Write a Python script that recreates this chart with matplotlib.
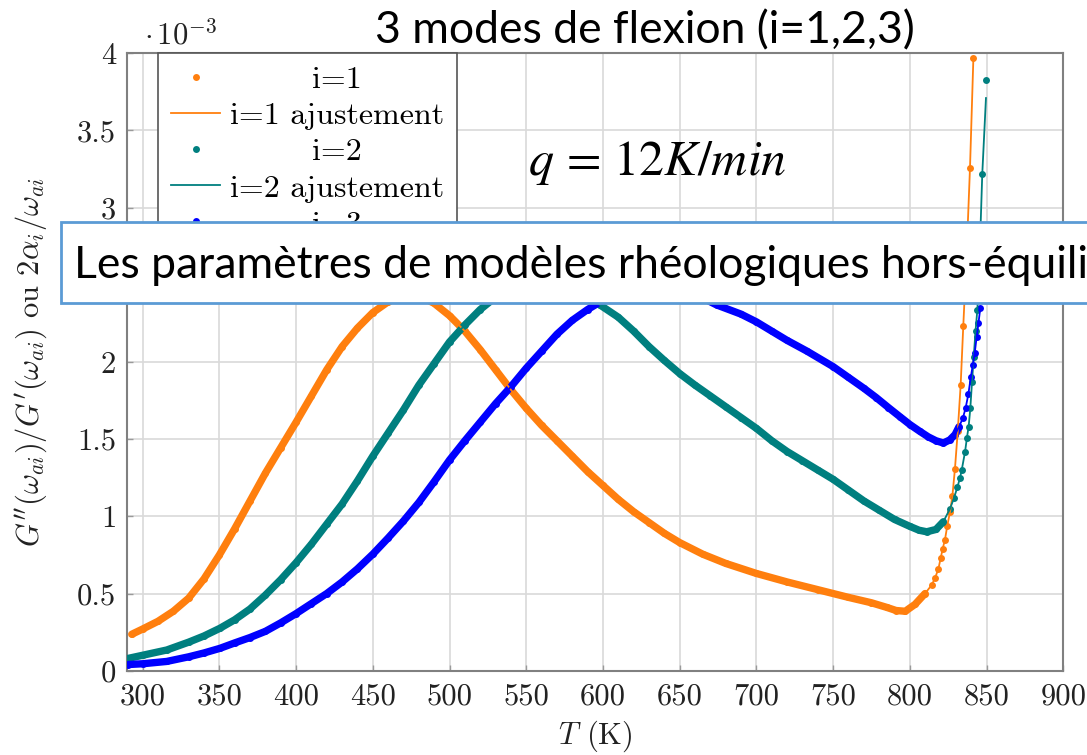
import matplotlib
matplotlib.use("Agg")
import matplotlib.pyplot as plt
from matplotlib.patches import Rectangle
from matplotlib.ticker import FuncFormatter, MultipleLocator

# ---------------- data (values in units of 1e-3) ----------------
T1 = [292.9, 300, 310, 320, 330, 340, 350, 360, 370, 380, 390, 400, 410, 420, 430,
      440, 450, 460, 470, 480, 490, 500, 510, 520, 530, 540, 550, 560, 570, 580,
      590, 600, 610, 620, 630, 640, 650, 665, 680, 700, 720, 740, 760, 775, 785,
      791, 797, 803.4, 809.9, 814.2, 816.4, 818.6, 820.1, 821.4, 822.9, 824.4,
      826.2, 827.7, 829.4, 831.2, 833.1, 834.8, 837.0, 839.2, 841.4]
V1 = [0.236, 0.27, 0.32, 0.385, 0.47, 0.595, 0.75, 0.92, 1.10, 1.28, 1.445, 1.61, 1.78, 1.95, 2.10,
      2.22, 2.32, 2.39, 2.43, 2.43, 2.38, 2.30, 2.20, 2.08, 1.95, 1.82, 1.70, 1.59, 1.49, 1.39,
      1.29, 1.20, 1.11, 1.03, 0.96, 0.89, 0.83, 0.755, 0.695, 0.63, 0.575, 0.525, 0.475, 0.44, 0.41,
      0.39, 0.385, 0.43, 0.50, 0.555, 0.60, 0.66, 0.73, 0.79, 0.85, 0.94,
      1.03, 1.13, 1.31, 1.55, 1.85, 2.23, 2.70, 3.26, 3.97]

T2 = [290.7, 300, 315.7, 330, 340, 350.4, 360, 370, 380, 390, 400, 410, 420, 430, 440,
      450, 460, 470, 480, 490, 500, 510, 520, 530, 540, 550, 560, 570, 580, 590,
      598, 610, 620, 630, 640, 650, 660, 670, 680, 690, 700, 710, 720, 730, 740,
      750, 760, 770, 780, 790, 800, 806, 811, 817, 821.8, 826.2, 828.8, 831.0,
      832.7, 833.8, 836.0, 837.2, 838.3, 839.4, 840.5, 841.6, 842.8, 844.0, 845.5,
      847.2, 849.6]
V2 = [0.08, 0.10, 0.134, 0.185, 0.225, 0.275, 0.33, 0.40, 0.49, 0.59, 0.70, 0.82, 0.95, 1.08, 1.23,
      1.39, 1.54, 1.69, 1.85, 1.99, 2.13, 2.24, 2.34, 2.42, 2.49, 2.53, 2.55, 2.54, 2.50, 2.44,
      2.37, 2.29, 2.20, 2.10, 2.01, 1.925, 1.85, 1.78, 1.71, 1.64, 1.57, 1.49, 1.42, 1.36, 1.30,
      1.24, 1.17, 1.10, 1.04, 0.98, 0.935, 0.91, 0.90, 0.915, 0.965, 1.05, 1.12, 1.19,
      1.25, 1.30, 1.42, 1.51, 1.58, 1.70, 1.87, 2.03, 2.20, 2.34, 2.70,
      3.22, 3.83]
V2_FIT_END = 3.71

T3 = [290.7, 300, 315.7, 330, 340, 350.4, 360, 370, 380, 390, 400, 410, 420, 430, 440,
      450, 460, 470, 480, 490, 500, 510, 520, 530, 540, 550, 560, 570, 580, 590,
      600, 610, 620, 630, 640, 650, 660, 674, 690, 700, 710, 720, 733, 750, 760,
      770, 778, 786, 793.6, 800, 806.6, 812, 817, 821.8, 826.0, 829.5, 832.0,
      834.5, 836.3, 838.1, 839.7, 841.0, 842.3, 843.5, 844.7, 845.9]
V3 = [0.04, 0.045, 0.06, 0.09, 0.115, 0.145, 0.18, 0.215, 0.255, 0.31, 0.37, 0.435, 0.50, 0.575, 0.66,
      0.755, 0.86, 0.97, 1.09, 1.225, 1.365, 1.49, 1.61, 1.73, 1.84, 1.96, 2.07, 2.18, 2.27, 2.34,
      2.40, 2.45, 2.48, 2.50, 2.50, 2.48, 2.44, 2.37, 2.31, 2.26, 2.20, 2.14, 2.07, 1.97, 1.90,
      1.83, 1.77, 1.705, 1.645, 1.595, 1.55, 1.515, 1.49, 1.475, 1.495, 1.53, 1.58,
      1.635, 1.70, 1.79, 1.90, 1.98, 2.06, 2.16, 2.25, 2.35]

LABELS = ["i=1", "i=1 ajustement", "i=2", "i=2 ajustement", "i=3", "i=3 ajustement"]
XTICKS = [300, 350, 400, 450, 500, 550, 600, 650, 700, 750, 800, 850, 900]
TITLE = "3 modes de flexion (i=1,2,3)"
RATE = r"$q\, =\, 12K/min$"
BANNER = "Les paramètres de modèles rhéologiques hors-équilibre"

# ---------------- style ----------------
plt.rcParams["font.family"] = ["cmr10", "DejaVu Serif"]
plt.rcParams["mathtext.fontset"] = "cm"
plt.rcParams["axes.formatter.use_mathtext"] = True

C1, C2, C3 = "#ff7f0e", "#007f7f", "#0000ff"
SCALE = 1e-3
FW, FH = 1087, 755

fig = plt.figure(figsize=(10.87, 7.55), dpi=100)
ax = fig.add_axes([127.3 / FW, 1 - 670.7 / FH, (1063.3 - 127.3) / FW, (670.7 - 53.3) / FH])

def series(T, V, color, dense_max, label, fitV=None):
    y = [v * SCALE for v in V]
    Td = [t for t in T if t <= dense_max]
    yd = y[:len(Td)]
    ax.plot(Td, yd, color=color, lw=5.3, solid_capstyle="round",
            solid_joinstyle="round", label="_nolegend_", zorder=3)
    ax.plot(T, y, ls="none", marker="o", ms=5.0, color=color, mec="none",
            label=label, zorder=3)
    yf = y if fitV is None else [v * SCALE for v in fitV]
    ax.plot(T, yf, color=color, lw=1.3, label=label + " ajustement", zorder=4)

series(T1, V1, C1, 812, LABELS[0])
series(T2, V2, C2, 824, LABELS[2], fitV=V2[:-1] + [V2_FIT_END])
series(T3, V3, C3, 832, LABELS[4])

ax.set_xlim(290, 900)
ax.set_ylim(0, 4 * SCALE)
ax.set_xticks(XTICKS)
ax.yaxis.set_major_locator(MultipleLocator(0.5 * SCALE))
ax.yaxis.set_major_formatter(FuncFormatter(lambda y, _: f"{y / SCALE:g}"))
ax.xaxis.set_major_formatter(FuncFormatter(lambda x, _: f"{x:g}"))
ax.grid(True, color="#d9d9d9", lw=1.2, zorder=0)
ax.set_axisbelow(True)
for s in ax.spines.values():
    s.set_color("#808080")
    s.set_linewidth(1.5)
ax.tick_params(axis="both", which="both", direction="in", length=4, width=1,
               color="#9a9a9a", labelsize=22, labelcolor="#222222")
ax.tick_params(axis="x", pad=9)
ax.tick_params(axis="y", pad=8)

ax.set_xlabel(r"$T$ (K)", fontsize=22, color="#222222", labelpad=6)
ax.set_ylabel(r"$G''(\omega_{ai})/G'(\omega_{ai})$ ou $2\alpha_i/\omega_{ai}$",
              fontsize=22, color="#222222", labelpad=20)

fig.text(144 / FW, 1 - 44 / FH, r"$\cdot\,10^{-3}$", fontsize=22,
         color="#222222", ha="left", va="baseline")

leg = ax.legend(loc="upper left", bbox_to_anchor=((158 - 127.3) / 936, 1.0),
                borderaxespad=0, fontsize=23, frameon=True, fancybox=False,
                framealpha=1, edgecolor="#555555", handlelength=1.55,
                handletextpad=0.3, labelspacing=0.24, borderpad=0.4)
leg.get_frame().set_linewidth(1.2)
leg.set_zorder(6)
fig.canvas.draw()
texts = leg.get_texts()
widths = [t.get_window_extent().width for t in texts]
W = max(widths)
for t, w in zip(texts, widths):
    t.set_x((W - w) / 2)

# overlay titles / annotation (figure pixel positions)
fig.text(645 / FW, 1 - 43 / FH, TITLE, fontsize=32, family="Lato",
         ha="center", va="baseline", color="black")
fig.text(528 / FW, 1 - 175 / FH, RATE, fontsize=36, math_fontfamily="stix",
         ha="left", va="baseline", color="black", zorder=7)

fig.add_artist(Rectangle((61 / FW, 1 - 303 / FH), 1.2, 81 / FH,
                         transform=fig.transFigure, facecolor="white",
                         edgecolor="#5b9bd5", lw=2, zorder=10))
fig.text(74 / FW, 1 - 278 / FH, BANNER, fontsize=32, family="Lato",
         ha="left", va="baseline", color="black", zorder=11)

fig.savefig("out.png", dpi=100)
